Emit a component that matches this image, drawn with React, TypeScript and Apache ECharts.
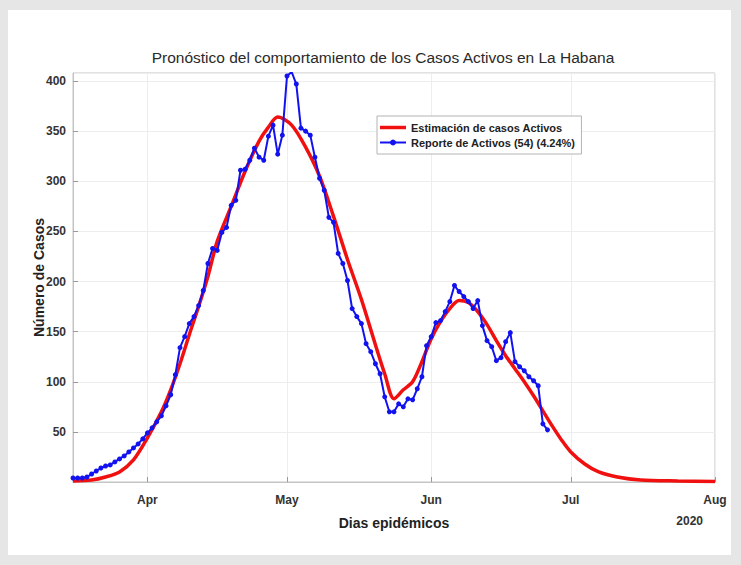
import React, { useEffect, useRef } from 'react';
import * as echarts from 'echarts';

const chartTitle = 'Pronóstico del comportamiento de los Casos Activos en La Habana';
const xAxisName = 'Dias epidémicos';
const yAxisName = 'Número de Casos';
const yearLabel = '2020';
const monthNames = ['Jan', 'Feb', 'Mar', 'Apr', 'May', 'Jun', 'Jul', 'Aug', 'Sep', 'Oct', 'Nov', 'Dec'];

// day 0 = 16 Mar 2020; axis spans day 0 .. day 138 (1 Aug 2020)
const axisStartDay = 0;
const axisEndDay = 138;
const yMin = 0;
const yMax = 408;
const yInterval = 50;

const seriesNames = ['Estimación de casos Activos', 'Reporte de Activos (54) (4.24%)'];

// reported active cases, one per day from 16 Mar 2020
const reportedValues = [
  4, 4, 4, 5, 8, 11, 14, 16, 17, 20,
  23, 26, 30, 34, 38, 43, 49, 54, 60, 66,
  76, 87, 107, 134, 145, 158, 165, 176, 191, 218,
  233, 231, 249, 254, 276, 281, 311, 312, 321, 333,
  324, 321, 345, 356, 327, 346, 405, 409, 397, 353,
  350, 346, 324, 303, 291, 264, 259, 228, 218, 201,
  173, 165, 158, 138, 130, 118, 108, 85, 70, 70,
  78, 75, 83, 82, 93, 105, 136, 145, 159, 161,
  170, 180, 196, 190, 185, 180, 173, 181, 156, 141,
  135, 121, 124, 140, 149, 120, 115, 111, 105, 101,
  96, 58, 52,
];

// estimated curve, sampled at these day offsets
const estimateDays = [0, 4, 7, 10, 13, 16, 19, 21, 23, 25, 27, 29, 31, 34, 37, 40, 42, 44, 47, 50, 53, 56, 59, 62, 65, 67, 69, 71, 73, 75, 77, 79, 81, 83, 85, 87, 89, 91, 93, 95, 97, 99, 101, 103, 105, 107, 110, 113, 117, 122, 130, 138];
const estimateValues = [1, 2, 5, 10, 22, 44, 70, 92, 118, 147, 175, 205, 240, 275, 310, 340, 354, 364, 356, 334, 305, 265, 222, 182, 137, 108, 83, 92, 100, 120, 143, 160, 173, 181, 179, 170, 157, 141, 126, 113, 100, 86, 71, 56, 42, 30, 18, 10, 5, 2, 1, 0.5];

const dayToTime = (d: number) => new Date(2020, 2, 16 + d).getTime();

const FONT = '"Liberation Sans", Arial, Helvetica, sans-serif';
const RED = '#f01010';
const BLUE = '#1212f0';
const redLegendIcon = 'path://M0,0 M0,2 L26,2 L26,5.5 L0,5.5 Z M26,7.5';

export default function App() {
  const ref = useRef<HTMLDivElement>(null);
  useEffect(() => {
    if (!ref.current) return;
    const chart = echarts.init(ref.current, null, { renderer: 'svg' });
    chart.setOption({
      animation: false,
      backgroundColor: 'transparent',
      title: {
        text: chartTitle,
        left: 378,
        textAlign: 'center',
        top: 44,
        textStyle: { fontFamily: FONT, fontSize: 15.5, fontWeight: 'normal', color: '#2a2a2a' },
      },
      legend: {
        orient: 'vertical',
        left: 377,
        top: 116,
        padding: [6, 6, 6, 2],
        itemGap: 4,
        itemWidth: 26,
        itemHeight: 7.5,
        borderColor: '#b4b4b4',
        borderWidth: 1,
        backgroundColor: '#fff',
        data: [
          { name: seriesNames[0], icon: redLegendIcon },
          { name: seriesNames[1] },
        ],
        textStyle: { fontFamily: FONT, fontWeight: 'bold', fontSize: 11, color: '#222' },
      },
      grid: {
        left: 73,
        right: 26,
        top: 73,
        bottom: 83,
        show: true,
        borderColor: '#c4c4c4',
        borderWidth: 1,
        backgroundColor: '#fff',
      },
      xAxis: {
        type: 'time',
        min: dayToTime(axisStartDay),
        max: dayToTime(axisEndDay),
        name: xAxisName,
        nameLocation: 'middle',
        nameGap: 34,
        nameMoveOverlap: false,
        nameTextStyle: { fontFamily: FONT, fontWeight: 'bold', fontSize: 14, color: '#222' },
        axisLine: { show: true, lineStyle: { color: '#c4c4c4' } },
        axisTick: { show: true, inside: true, length: 5, lineStyle: { color: '#999' } },
        axisLabel: {
          showMaxLabel: true,
          showMinLabel: true,
          hideOverlap: false,
          fontFamily: FONT,
          fontWeight: 'bold',
          fontSize: 12,
          color: '#333',
          margin: 12,
          formatter: (v: number) => {
            const d = new Date(v);
            return d.getDate() === 1 ? monthNames[d.getMonth()] : '';
          },
        },
        splitLine: { show: true, lineStyle: { color: '#ededed' } },
      },
      yAxis: {
        type: 'value',
        min: yMin,
        max: yMax,
        interval: yInterval,
        name: yAxisName,
        nameLocation: 'middle',
        nameGap: 27,
        nameMoveOverlap: false,
        nameTextStyle: { fontFamily: FONT, fontWeight: 'bold', fontSize: 14, color: '#222' },
        axisLine: { show: true, lineStyle: { color: '#c4c4c4' } },
        axisTick: { show: true, inside: true, length: 5, lineStyle: { color: '#999' } },
        axisLabel: {
          showMinLabel: false,
          showMaxLabel: false,
          fontFamily: FONT,
          fontWeight: 'bold',
          fontSize: 12,
          color: '#333',
          margin: 7,
        },
        splitLine: { show: true, lineStyle: { color: '#ededed' } },
      },
      graphic: [
        {
          type: 'text',
          right: 38,
          top: 515,
          style: { text: yearLabel, fontFamily: FONT, fontWeight: 'bold', fontSize: 12, fill: '#333' },
        },
      ],
      series: [
        {
          type: 'line',
          name: seriesNames[0],
          data: estimateDays.map((d, i) => [dayToTime(d), estimateValues[i]]),
          smooth: 0.3,
          symbol: 'none',
          lineStyle: { color: RED, width: 3.5 },
          itemStyle: { color: RED },
        },
        {
          type: 'line',
          name: seriesNames[1],
          data: reportedValues.map((v, i) => [dayToTime(i), v]),
          symbol: 'circle',
          symbolSize: 5,
          lineStyle: { color: BLUE, width: 2 },
          itemStyle: { color: BLUE },
        },
      ],
    });
    return () => chart.dispose();
  }, []);

  return (
    <div style={{ position: 'absolute', left: 0, top: 0, width: 741, height: 565, background: '#e6e6e6' }}>
      <div style={{ position: 'absolute', left: 8, top: 10, width: 723, height: 545, background: '#fff' }} />
      <div ref={ref} style={{ position: 'absolute', left: 0, top: 0, width: 741, height: 565 }} />
    </div>
  );
}
